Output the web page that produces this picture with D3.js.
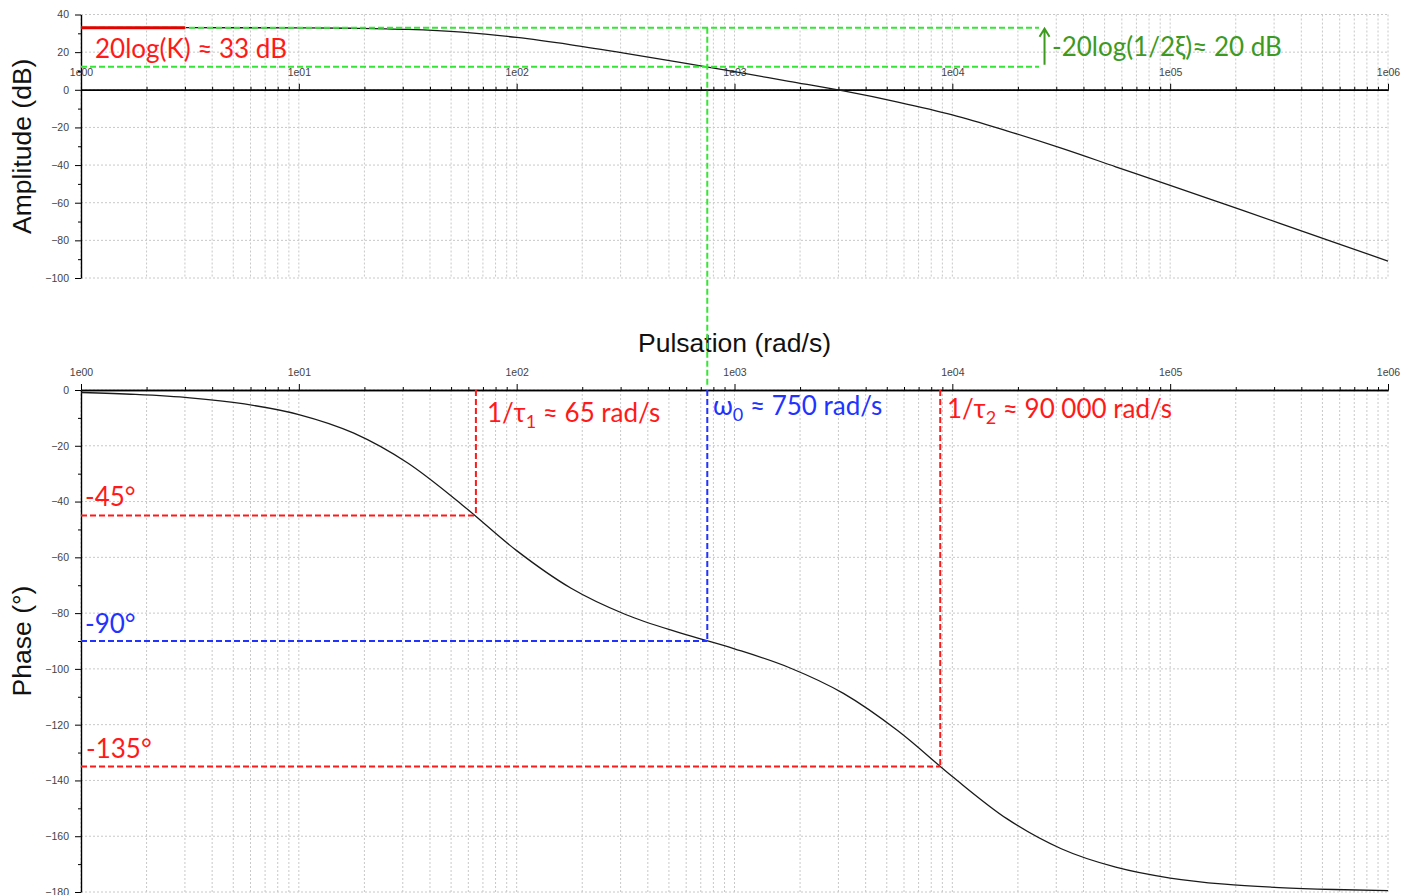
<!DOCTYPE html>
<html>
<head>
<meta charset="utf-8">
<script src="https://cdn.jsdelivr.net/npm/d3@7"></script>
<style>
  body { margin: 0; background: #fff; }
  svg { display: block; }
  .tick text { font-family: "Liberation Sans", Arial, sans-serif; font-size: 10.5px; fill: #444; }
  .note { font-family: Lato, "Open Sans", sans-serif; font-size: 26px; }
</style>
</head>
<body>
<svg id="chart" width="1413" height="895"></svg>
<script>
// Bode diagram of a second-order low-pass system (two real poles)
const pulsation = [1, 1.778, 3.162, 5.623, 10, 17.78, 31.62, 56.23, 100, 177.8, 316.2, 562.3,
  1000, 1778, 3162, 5623, 10000, 17783, 31623, 56234, 100000, 177828, 316228, 562341, 1000000];
const amplitudeDb = [33.0, 33.0, 33.0, 32.97, 32.9, 32.7, 32.1, 30.6, 27.8, 23.9, 19.4, 14.6,
  9.6, 4.5, -0.6, -6.5, -13.3, -21.8, -31.0, -40.9, -50.8, -60.8, -70.8, -80.9, -91.0];
const phaseDeg = [-0.9, -1.6, -2.8, -5.0, -8.8, -15.4, -26.2, -41.2, -57.6, -71.1, -80.5, -87.1,
  -92.8, -99.5, -108.8, -122.2, -138.6, -153.7, -164.5, -171.1, -175.0, -177.2, -178.4, -179.1, -179.5];

const decadeTicks = [1, 10, 100, 1000, 10000, 100000, 1000000];
const decadeLabels = ["1e00", "1e01", "1e02", "1e03", "1e04", "1e05", "1e06"];
const amplitudeTicks = [40, 20, 0, -20, -40, -60, -80, -100];
const amplitudeMinor = [30, 10, -10, -30, -50, -70, -90];
const phaseTicks = [0, -20, -40, -60, -80, -100, -120, -140, -160, -180];
const phaseMinor = [-10, -30, -50, -70, -90, -110, -130, -150, -170];

// Characteristic values marked on the diagram
const staticGainDb = 33;          // 20log(K)
const gainDropDb = 20;            // -20log(1/2ξ)
const ampAtOmega0 = 12.3;
const omegaTau1 = 65;
const omega0 = 750;
const omegaTau2 = 8800;
const phaseMarks = [-45, -90, -135];
const staticGainEnd = 3;          // red segment extent
const gainLinesEnd = 25000;       // green guide extent
const arrowOmega = 26500;

const svg = d3.select("#chart");

const x = d3.scaleLog().domain([1, 1e6]).range([81, 1388]);
const yA = d3.scaleLinear().domain([40, -100]).range([14.5, 278]);
const yP = d3.scaleLinear().domain([0, -180]).range([390, 892]);

const minorX = [];
for (let k = 0; k < 6; k++) for (let d = 1; d <= 9; d++) minorX.push(d * Math.pow(10, k));
minorX.push(1e6);

const labelOf = v => decadeLabels[decadeTicks.indexOf(v)];

function panel(y, yTicks, yMinor) {
  const g = svg.append("g");
  const [y0, y1] = y.range();
  // dotted grid
  g.append("g").selectAll("line").data(minorX).join("line")
    .attr("x1", d => x(d)).attr("x2", d => x(d))
    .attr("y1", y0).attr("y2", y1)
    .attr("stroke", "#c8c8c8").attr("stroke-width", 1).attr("stroke-dasharray", "2,2");
  g.append("g").selectAll("line").data(yTicks).join("line")
    .attr("x1", x.range()[0]).attr("x2", x.range()[1])
    .attr("y1", d => y(d)).attr("y2", d => y(d))
    .attr("stroke", "#c8c8c8").attr("stroke-width", 1).attr("stroke-dasharray", "2,2");
  // y axis
  const ay = g.append("g").attr("transform", `translate(${x.range()[0]},0)`);
  ay.call(d3.axisLeft(y).tickValues(yTicks).tickSize(6).tickPadding(6).tickSizeOuter(0));
  ay.append("g").call(d3.axisLeft(y).tickValues(yMinor).tickSize(3).tickFormat("").tickSizeOuter(0))
    .select(".domain").remove();
  return g;
}

function xAxisAt(g, yPos) {
  const ax = g.append("g").attr("transform", `translate(0,${yPos})`);
  ax.call(d3.axisTop(x).tickValues(minorX.filter(v => !decadeTicks.includes(v)))
    .tickSize(3).tickFormat("").tickSizeOuter(0));
  ax.append("g").call(d3.axisTop(x).tickValues(decadeTicks).tickSize(6).tickPadding(8)
    .tickFormat(labelOf).tickSizeOuter(0));
  ax.selectAll(".domain").attr("stroke", "#000").attr("stroke-width", 1.4);
}

const line = (yScale, vals) => d3.line()
  .x((d, i) => x(pulsation[i])).y((d, i) => yScale(vals[i]))
  .curve(d3.curveMonotoneX)(vals);

// ---- Amplitude panel ----
const gA = panel(yA, amplitudeTicks, amplitudeMinor);
xAxisAt(gA, yA(0));
gA.append("path").attr("d", line(yA, amplitudeDb))
  .attr("fill", "none").attr("stroke", "#1a1a1a").attr("stroke-width", 1.3);

// ---- Phase panel ----
const gP = panel(yP, phaseTicks, phaseMinor);
xAxisAt(gP, yP(0));
gP.append("path").attr("d", line(yP, phaseDeg))
  .attr("fill", "none").attr("stroke", "#1a1a1a").attr("stroke-width", 1.3);

svg.selectAll(".domain").attr("stroke-width", 1.4);

// ---- Axis titles ----
const titleFont = "'Liberation Sans', Arial, sans-serif";
const titleSize = 26.5;
svg.append("text").attr("transform", `translate(31,${(yA.range()[0] + yA.range()[1]) / 2}) rotate(-90)`)
  .attr("text-anchor", "middle").attr("font-family", titleFont).attr("font-size", titleSize).attr("fill", "#111")
  .text("Amplitude (dB)");
svg.append("text").attr("transform", `translate(31,${(yP.range()[0] + yP.range()[1]) / 2}) rotate(-90)`)
  .attr("text-anchor", "middle").attr("font-family", titleFont).attr("font-size", titleSize).attr("fill", "#111")
  .text("Phase (°)");
svg.append("text").attr("x", x(Math.sqrt(1e6))).attr("y", 352)
  .attr("text-anchor", "middle").attr("font-family", titleFont).attr("font-size", titleSize).attr("fill", "#111")
  .text("Pulsation (rad/s)");

// ---- Guide lines ----
const RED = "#ff1a1a", BLUE = "#2233ff", LIME = "#33e633", GREEN = "#3d9a1e";
const dash = (x1, y1, x2, y2, color) => svg.append("line")
  .attr("x1", x1).attr("y1", y1).attr("x2", x2).attr("y2", y2)
  .attr("stroke", color).attr("stroke-width", 2).attr("stroke-dasharray", "6,3");

// static gain and resonance-drop guides
dash(x(1), yA(staticGainDb), x(gainLinesEnd), yA(staticGainDb), LIME);
dash(x(1), yA(ampAtOmega0), x(gainLinesEnd), yA(ampAtOmega0), LIME);
dash(x(omega0), yA(staticGainDb), x(omega0), yP(0) - 4, LIME);
svg.append("line").attr("x1", x(1)).attr("x2", x(staticGainEnd))
  .attr("y1", yA(staticGainDb)).attr("y2", yA(staticGainDb))
  .attr("stroke", "#e60000").attr("stroke-width", 3);

// arrow showing the gain drop
const ax0 = x(arrowOmega), ayTop = yA(staticGainDb) + 1, ayBot = yA(ampAtOmega0) - 2;
svg.append("path")
  .attr("d", `M${ax0},${ayBot}L${ax0},${ayTop}M${ax0 - 5},${ayTop + 8}L${ax0},${ayTop}L${ax0 + 5},${ayTop + 8}`)
  .attr("fill", "none").attr("stroke", GREEN).attr("stroke-width", 2);

// phase markers
const markOmegas = [omegaTau1, omega0, omegaTau2];
const markColors = [RED, BLUE, RED];
markOmegas.forEach((w, i) => {
  dash(x(1), yP(phaseMarks[i]), x(w), yP(phaseMarks[i]), markColors[i]);
  dash(x(w), yP(0), x(w), yP(phaseMarks[i]), markColors[i]);
});

// ---- Annotations ----
function note(xp, yp, color, parts) {
  const t = svg.append("text").attr("class", "note").attr("x", xp).attr("y", yp).attr("fill", color);
  parts.forEach(p => {
    const s = t.append("tspan").text(p.t);
    if (p.sub) s.attr("font-size", 18).attr("dy", 6);
    if (p.back) s.attr("dy", -6);
  });
  return t;
}
note(95, 58, RED, [{ t: "20log(K) ≈ 33 dB" }]);
note(1052, 56, GREEN, [{ t: "-20log(1/2ξ)≈ 20 dB" }]);
note(487, 422, RED, [{ t: "1/τ" }, { t: "1", sub: true }, { t: " ≈ 65 rad/s", back: true }]);
note(713, 415, BLUE, [{ t: "ω" }, { t: "0", sub: true }, { t: " ≈ 750 rad/s", back: true }]);
note(947, 418, RED, [{ t: "1/τ" }, { t: "2", sub: true }, { t: " ≈ 90 000 rad/s", back: true }]);
note(85, 506, RED, [{ t: "-45°" }]);
note(85, 633, BLUE, [{ t: "-90°" }]);
note(86, 758, RED, [{ t: "-135°" }]);
</script>
</body>
</html>
